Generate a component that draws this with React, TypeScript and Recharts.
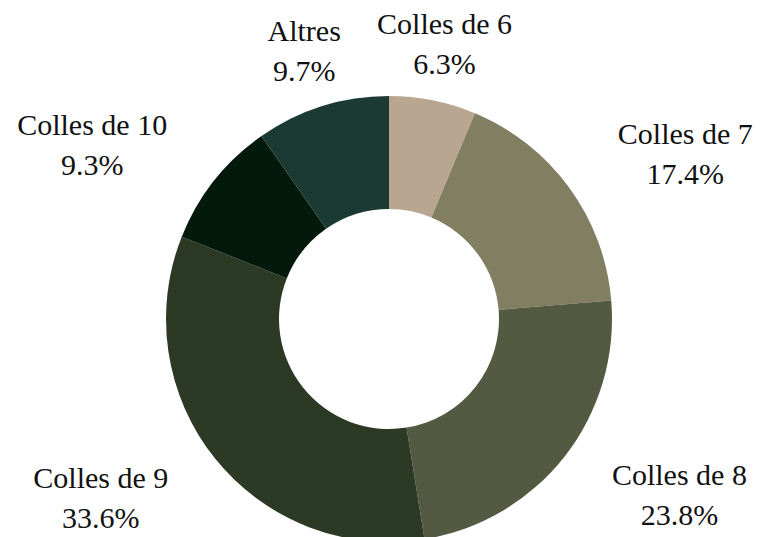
import React from "react";
import { PieChart, Pie, Cell } from "recharts";

const categories = ["Colles de 6", "Colles de 7", "Colles de 8", "Colles de 9", "Colles de 10", "Altres"];
const shares = [6.3, 17.4, 23.8, 33.6, 9.3, 9.7];
const colors = ["#b9a690", "#817e62", "#535a41", "#2c3a25", "#03190c", "#1c3a34"];

const data = categories.map((name, i) => ({ name, value: shares[i] }));

const RAD = Math.PI / 180;
const FONT = "30px 'Liberation Serif', serif";

let ctx: CanvasRenderingContext2D | null = null;
function textWidth(s: string) {
    if (!ctx) ctx = document.createElement("canvas").getContext("2d");
    if (!ctx) return s.length * 14;
    ctx.font = FONT;
    return ctx.measureText(s).width;
}

// two-line label block placed 60px outside the ring, lines centred on each other
function renderLabel(props: any) {
    const { cx, cy, midAngle, outerRadius, name, value } = props;
    const r = outerRadius + 60;
    const cos = Math.cos(-midAngle * RAD);
    const px = cx + r * cos;
    const py = cy + r * Math.sin(-midAngle * RAD);
    const pct = `${Number(value).toFixed(1)}%`;
    const w = Math.max(textWidth(name), textWidth(pct));
    const x = Math.abs(cos) < 0.35 ? px : cos > 0 ? px + w / 2 : px - w / 2;
    return (
        <text
            x={x}
            y={py}
            textAnchor="middle"
            fill="#111"
            fontFamily="'Liberation Serif', serif"
            fontSize={30}
        >
            <tspan x={x} dy={-8}>{name}</tspan>
            <tspan x={x} dy={40}>{pct}</tspan>
        </text>
    );
}

export default function App() {
    return (
        <div style={{ position: "absolute", left: 0, top: 0, width: 763, height: 537, background: "#fff" }}>
            <PieChart width={763} height={537} margin={{ top: 0, right: 0, bottom: 0, left: 0 }}>
                <Pie
                    data={data}
                    dataKey="value"
                    nameKey="name"
                    cx={389}
                    cy={319}
                    innerRadius={110}
                    outerRadius={223}
                    startAngle={90}
                    endAngle={-270}
                    stroke="none"
                    label={renderLabel}
                    labelLine={false}
                    isAnimationActive={false}
                >
                    {data.map((d, i) => (
                        <Cell key={d.name} fill={colors[i]} />
                    ))}
                </Pie>
            </PieChart>
        </div>
    );
}
